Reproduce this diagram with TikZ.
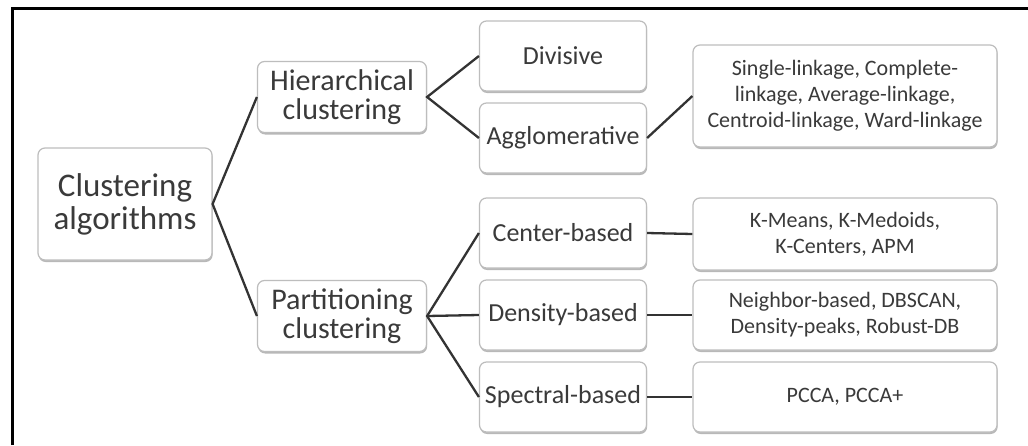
\documentclass[tikz,border=0pt]{standalone}
\usepackage{fontspec}
\setmainfont{Carlito}
\usetikzlibrary{shadows}
\definecolor{txt}{HTML}{3A3A3A}
\definecolor{bord}{HTML}{BDBDBD}
\definecolor{shad}{HTML}{9A9A9A}
\definecolor{conn}{HTML}{333333}
\tikzset{
  box/.style={draw=bord, line width=1.2pt, rounded corners=7pt, fill=white,
    drop shadow={shadow xshift=0.6pt, shadow yshift=-2pt, fill=shad, opacity=0.7},
    text=txt, align=center, inner sep=0pt},
  rootbox/.style={box, minimum width=174pt, minimum height=112pt,
    font=\fontsize{33}{33}\selectfont},
  lvtwo/.style={box, minimum width=169pt, minimum height=71pt,
    font=\fontsize{30}{29}\selectfont},
  lvthree/.style={box, minimum width=167pt, minimum height=70pt,
    font=\fontsize{26}{28}\selectfont},
  leafbox/.style={box, minimum width=304pt, minimum height=70pt,
    font=\fontsize{22}{26}\selectfont},
  conline/.style={draw=conn, line width=2.3pt},
  frameline/.style={draw=black, line width=3pt}
}
\begin{document}
\begin{tikzpicture}[x=1pt,y=-1pt]
\useasboundingbox (0,0) rectangle (1028,445);
\fill[white] (0,0) rectangle (1028,445);
\coordinate (fa) at (12.5,445);
\coordinate (fb) at (12.5,8.5);
\coordinate (fc) at (1028,8.5);
\draw[frameline] (fa) -- (fb) -- (fc);

\node[rootbox] (root) at (125,204) {Clustering\\algorithms};
\node[lvtwo] (hier) at (342,97) {Hierarchical\\clustering};
\node[lvtwo] (part) at (342,316) {Partitioning\\clustering};
\node[lvthree] (div) at (563,56) {Divisive};
\node[lvthree] (agg) at (563,138) {Agglomerative};
\node[lvthree] (cen) at (563,233) {Center-based};
\node[lvthree] (den) at (563,315) {Density-based};
\node[lvthree] (spe) at (563,397) {Spectral-based};
\node[leafbox, minimum height=102pt] (link) at (845,96) {Single-linkage, Complete-\\linkage, Average-linkage,\\Centroid-linkage, Ward-linkage};
\node[leafbox, minimum height=72pt] (km) at (845,234) {K-Means, K-Medoids,\\K-Centers, APM};
\node[leafbox] (nb) at (845,315) {Neighbor-based, DBSCAN,\\Density-peaks, Robust-DB};
\node[leafbox] (pc) at (845,397) {PCCA, PCCA+};

\draw[conline] (hier.west) -- (root.east) -- (part.west);
\draw[conline] (div.west) -- (hier.east) -- (agg.west);
\draw[conline] (agg.east) -- (link.west);
\draw[conline] (cen.west) -- (part.east) -- (spe.west);
\draw[conline] (part.east) -- (den.west);
\draw[conline] (cen.east) -- (km.west);
\draw[conline] (den.east) -- (nb.west);
\draw[conline] (spe.east) -- (pc.west);
\end{tikzpicture}
\end{document}
